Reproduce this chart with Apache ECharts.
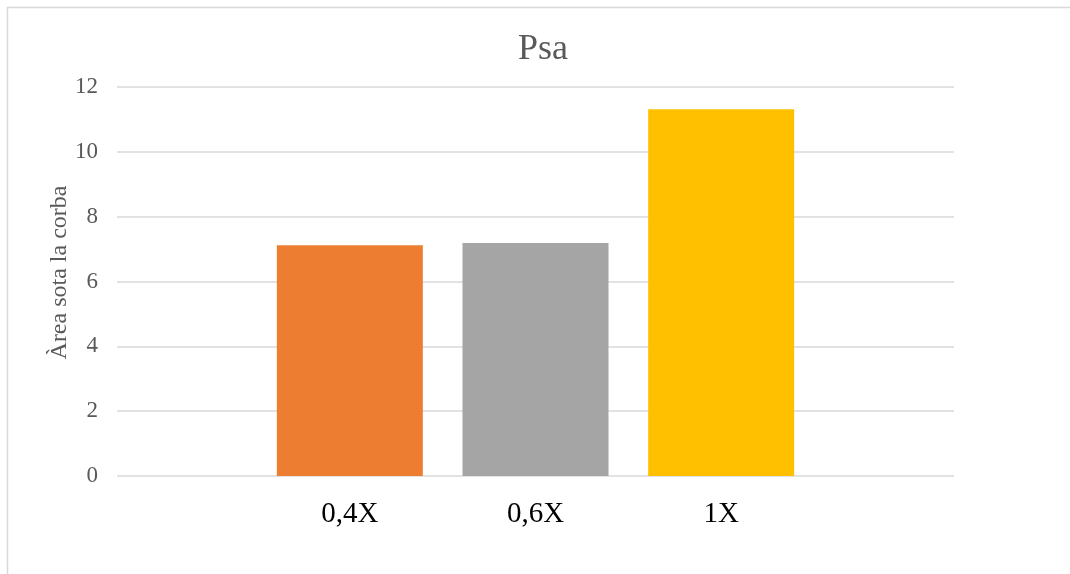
<!DOCTYPE html>
<html>
<head>
<meta charset="utf-8">
<script src="https://cdn.jsdelivr.net/npm/echarts@6/dist/echarts.min.js"></script>
<style>
  html, body { margin: 0; padding: 0; background: #ffffff; }
  #chart { width: 1070px; height: 574px; }
</style>
</head>
<body>
<div id="chart"></div>
<script>
// Dose groups and the measured area under the curve for each
const categories = ['0,4X', '0,6X', '1X'];
const areaValues = [7.12, 7.19, 11.31];
const yTicks = { min: 0, max: 12, step: 2 };

const barColors = ['#ED7D31', '#A5A5A5', '#FFC000'];
const serif = '"Liberation Serif", "Times New Roman", serif';

const chart = echarts.init(document.getElementById('chart'), null, { renderer: 'canvas' });

chart.setOption({
  backgroundColor: '#ffffff',
  animation: false,
  title: {
    text: 'Psa',
    left: 543,
    top: 32,
    padding: 0,
    textAlign: 'center',
    textStyle: { fontFamily: serif, fontSize: 36, fontWeight: 'normal', color: '#595959' }
  },
  graphic: [{
    type: 'rect',
    shape: { x: 7.5, y: 7.5, width: 1100, height: 600 },
    style: { fill: 'none', stroke: '#d9d9d9', lineWidth: 1.5 },
    silent: true
  }],
  grid: [
    // full plot area: carries the value axis and its gridlines
    { left: 117, right: 116, top: 87, bottom: 98 },
    // bar band area, centred within the plot
    { left: 257, right: 256, top: 87, bottom: 98 }
  ],
  xAxis: [
    { type: 'value', gridIndex: 0, show: false, min: 0, max: 1 },
    {
      type: 'category', gridIndex: 1, data: categories,
      axisLine: { show: false }, axisTick: { show: false },
      axisLabel: { margin: 24, fontFamily: serif, fontSize: 29, color: '#000000' }
    }
  ],
  yAxis: [
    {
      type: 'value', gridIndex: 0,
      min: yTicks.min, max: yTicks.max, interval: yTicks.step,
      name: 'Àrea sota la corba',
      nameLocation: 'middle', nameRotate: 90, nameGap: 45,
      nameMoveOverlap: false,
      nameTextStyle: { fontFamily: serif, fontSize: 24, color: '#595959', padding: [0, 0, 0, 18] },
      axisLine: { show: false }, axisTick: { show: false },
      axisLabel: { margin: 19, fontFamily: serif, fontSize: 23, color: '#595959' },
      splitLine: { lineStyle: { color: '#d9d9d9', width: 1.5 } }
    },
    {
      type: 'value', gridIndex: 1, show: false,
      min: yTicks.min, max: yTicks.max, interval: yTicks.step,
      splitLine: { show: false }
    }
  ],
  series: [{
    type: 'bar',
    xAxisIndex: 1, yAxisIndex: 1,
    barWidth: 146,
    data: areaValues.map((v, i) => ({ value: v, itemStyle: { color: barColors[i] } }))
  }]
});
</script>
</body>
</html>
